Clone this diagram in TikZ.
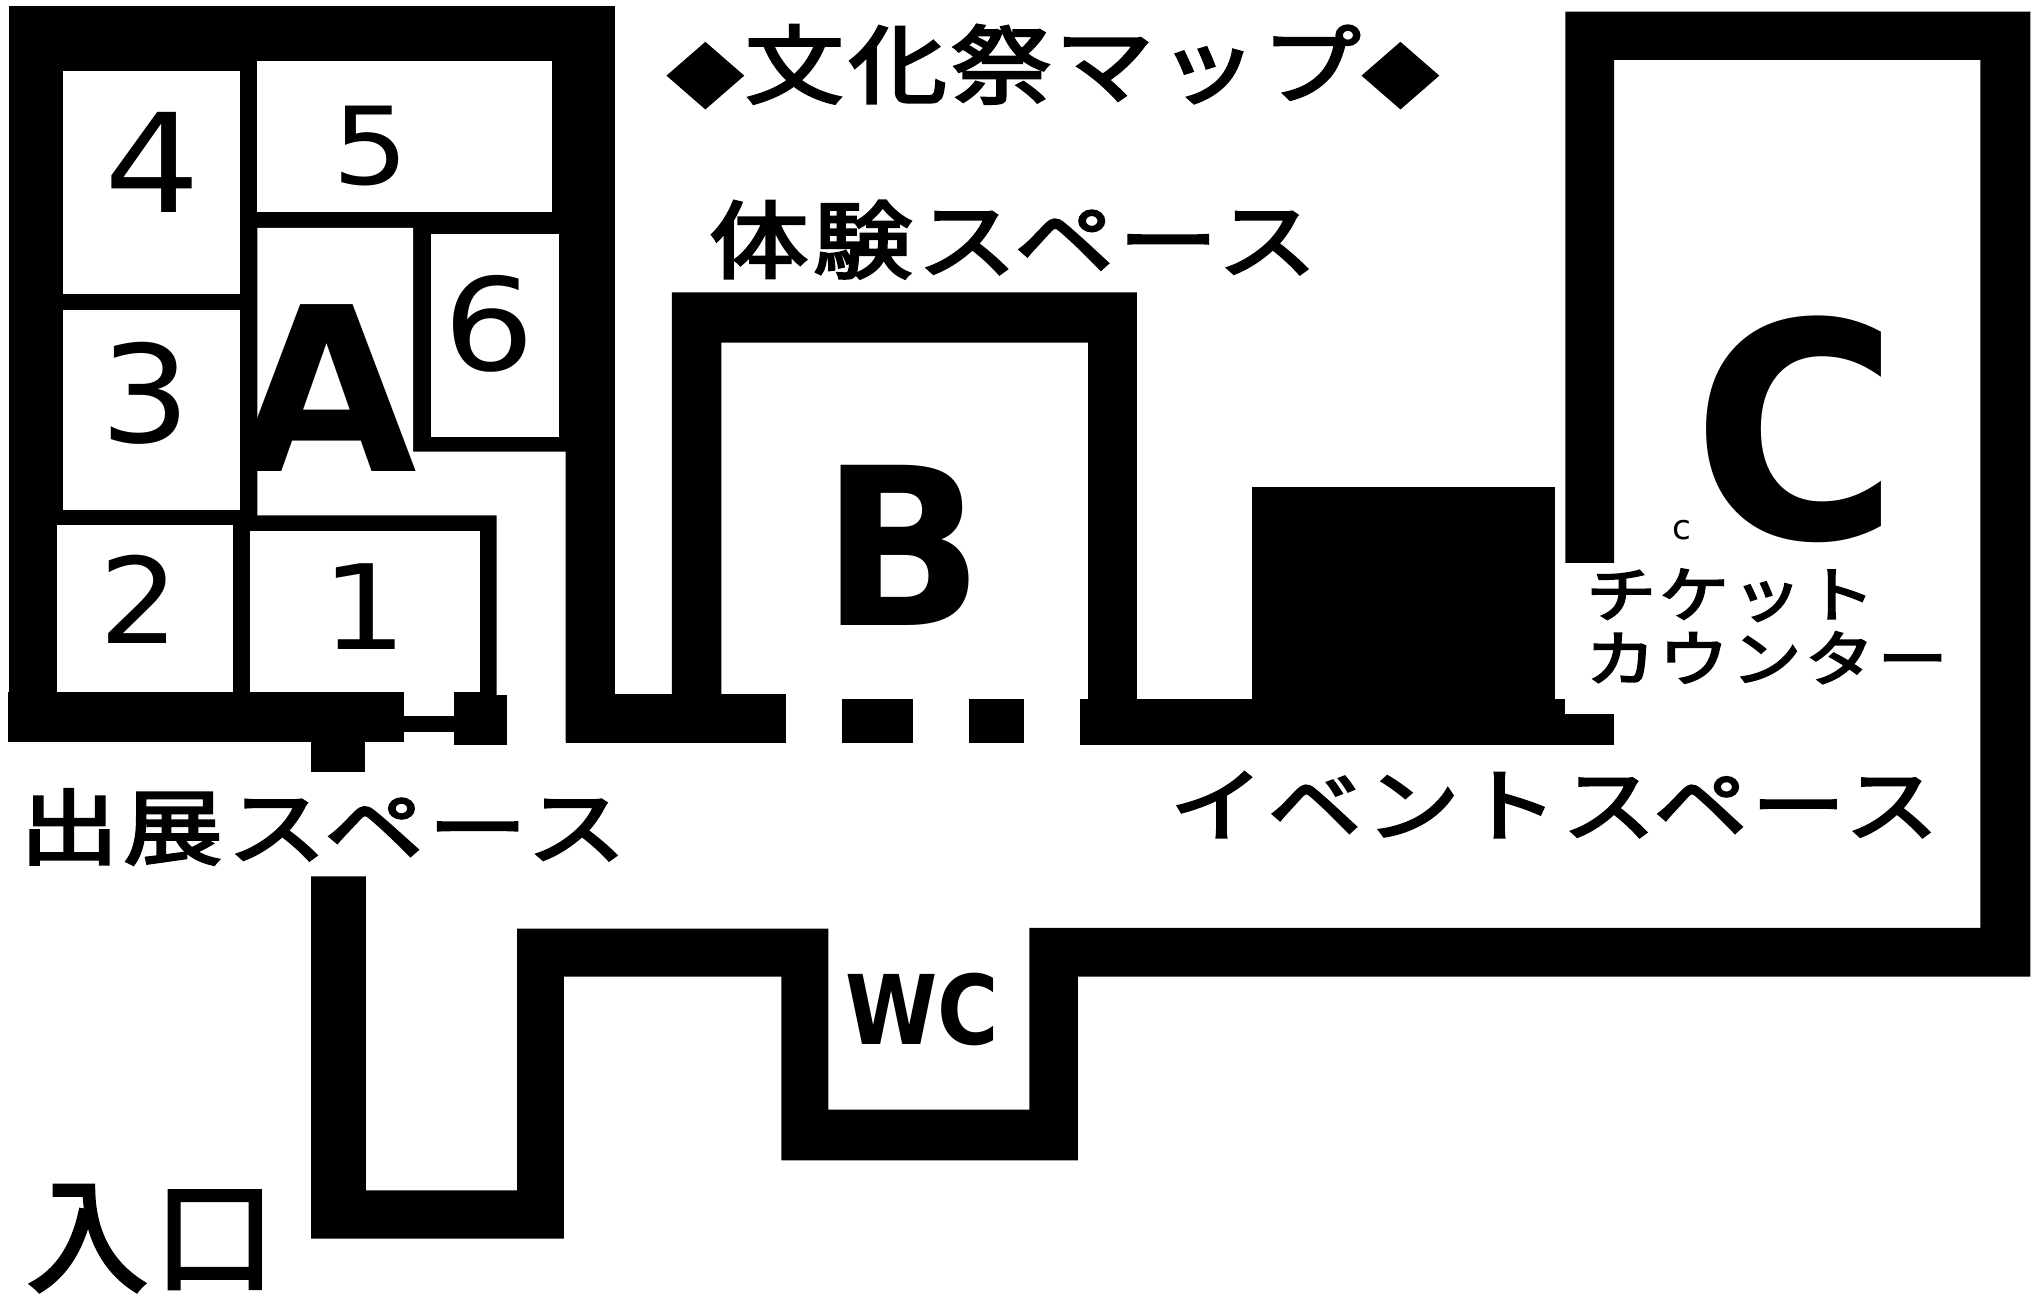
\documentclass[tikz,border=0pt]{standalone}
\usepackage{fontspec}
\setmainfont{DejaVu Sans}
\newfontfamily\jp[LetterSpace=5,FakeBold=3]{Noto Sans CJK JP}
\newcommand{\fs}[1]{\fontsize{#1}{#1}\selectfont}
\tikzset{
  wall/.style={fill=black,draw=none},
  floorw/.style={fill=white,draw=none},
  lab/.style={inner sep=0pt,outer sep=0pt,text=black},
  num/.style={lab,font=\fs{#1},transform shape},
  big/.style={lab,font=\bfseries\fs{#1},transform shape},
  jap/.style={lab,font=\jp\fs{#1},transform shape}
}
\begin{document}
\begin{tikzpicture}[x=0.01cm,y=-0.01cm]
\useasboundingbox (0,0) rectangle (1568,996.7);
\fill[white] (0,0) rectangle (1568,996.7);
% Block A
\fill[wall] (7,4.4) rectangle (472,570);
\fill[wall] (6,531) rectangle (310,570);
\fill[wall] (238.7,560) rectangle (280,592.8);
\fill[floorw] (197.7,175) -- (317.3,175) -- (317.3,346.8) -- (434.3,346.8) -- (434.3,572) -- (381.3,572) -- (381.3,395.8) -- (197.7,395.8) -- cycle;
\fill[floorw] (48.3,54.2) rectangle (184,226);
\fill[floorw] (197.7,47) rectangle (424,163);
\fill[floorw] (330.7,179.8) rectangle (429.3,335.4);
\fill[floorw] (44,403.3) rectangle (179,531);
\fill[floorw] (192,407.7) rectangle (368.3,531);
\fill[floorw] (310,531) rectangle (348.3,550);
\fill[floorw] (310,562) rectangle (348.3,572);
\fill[wall] (348.3,533.6) rectangle (389,572);
% Bottom wall row
\fill[wall] (434.3,533) rectangle (603.6,570.8);
\fill[wall] (646.8,537) rectangle (701,570.8);
\fill[wall] (744,537) rectangle (786,570.8);
\fill[wall] (829.5,537) rectangle (1239.5,572);
% Room B
\fill[wall] (516,224.5) -- (873,224.5) -- (873,540) -- (835.6,540) -- (835.6,263) -- (554,263) -- (554,540) -- (516,540) -- cycle;
% Black block
\fill[wall] (961,374) rectangle (1194,540);
% Outer wall
\fill[wall] (239,673) -- (281,673) -- (281,914) -- (397,914) -- (397,713) -- (636,713) -- (636,852) -- (790.4,852) -- (790.4,712.5) -- (1520.6,712.5) -- (1520.6,46) -- (1239.5,46) -- (1239.5,432.5) -- (1202,432.5) -- (1202,9) -- (1559,9) -- (1559,750) -- (827.6,750) -- (827.6,891) -- (600,891) -- (600,750) -- (433,750) -- (433,951) -- (239,951) -- cycle;
\fill[floorw] (1202,432.5) rectangle (1239.5,548.6);
% Labels
\node[big=50,xscale=1.02] (A) at (250.7,298) {A};
\fill[floorw] (48.3,238) rectangle (184,391.4);
\node[big=48,xscale=.97] (B) at (693.5,418.5) {B};
\node[big=65.5,xscale=.94] (C) at (1379,329.5) {C};
\node[big=21,xscale=.87] (WC) at (708,775) {WC};
\node[lab,font=\fs{7.5}] (c) at (1291.5,407) {c};
\node[num=30,xscale=1.1] (n4) at (117.5,124.5) {4};
\node[num=23.5,xscale=1.12] (n5) at (285,112) {5};
\node[num=28,xscale=1.12] (n6) at (376,249) {6};
\node[num=29.5,xscale=1.05] (n3) at (111.7,302) {3};
\node[num=26,xscale=1.05] (n2) at (107,460.5) {2};
\node[num=25.7,xscale=1.15] (n1) at (280,466) {1};
\node[jap=18.7,xscale=1.15] (title) at (808.5,51) {\raisebox{-0.9pt}{\fs{14.5}◆}\kern0.3pt 文化祭マップ\kern0.3pt\raisebox{-0.9pt}{\fs{14.5}◆}};
\node[jap=18.5,xscale=1.17] (taiken) at (778,184) {体験スペース};
\node[jap=18,xscale=1.2] (shutten) at (248,635) {出展スペース};
\node[jap=17.5,xscale=1.165] (event) at (1193.5,618) {イベントスペース};
\node[jap=13.2,xscale=1.15] (ticket) at (1329,457) {チケット};
\node[jap=13.2,xscale=1.15] (counter) at (1356.6,505) {カウンター};
\node[jap=27,xscale=.98] (entry) at (116,951) {入口};
\end{tikzpicture}
\end{document}
